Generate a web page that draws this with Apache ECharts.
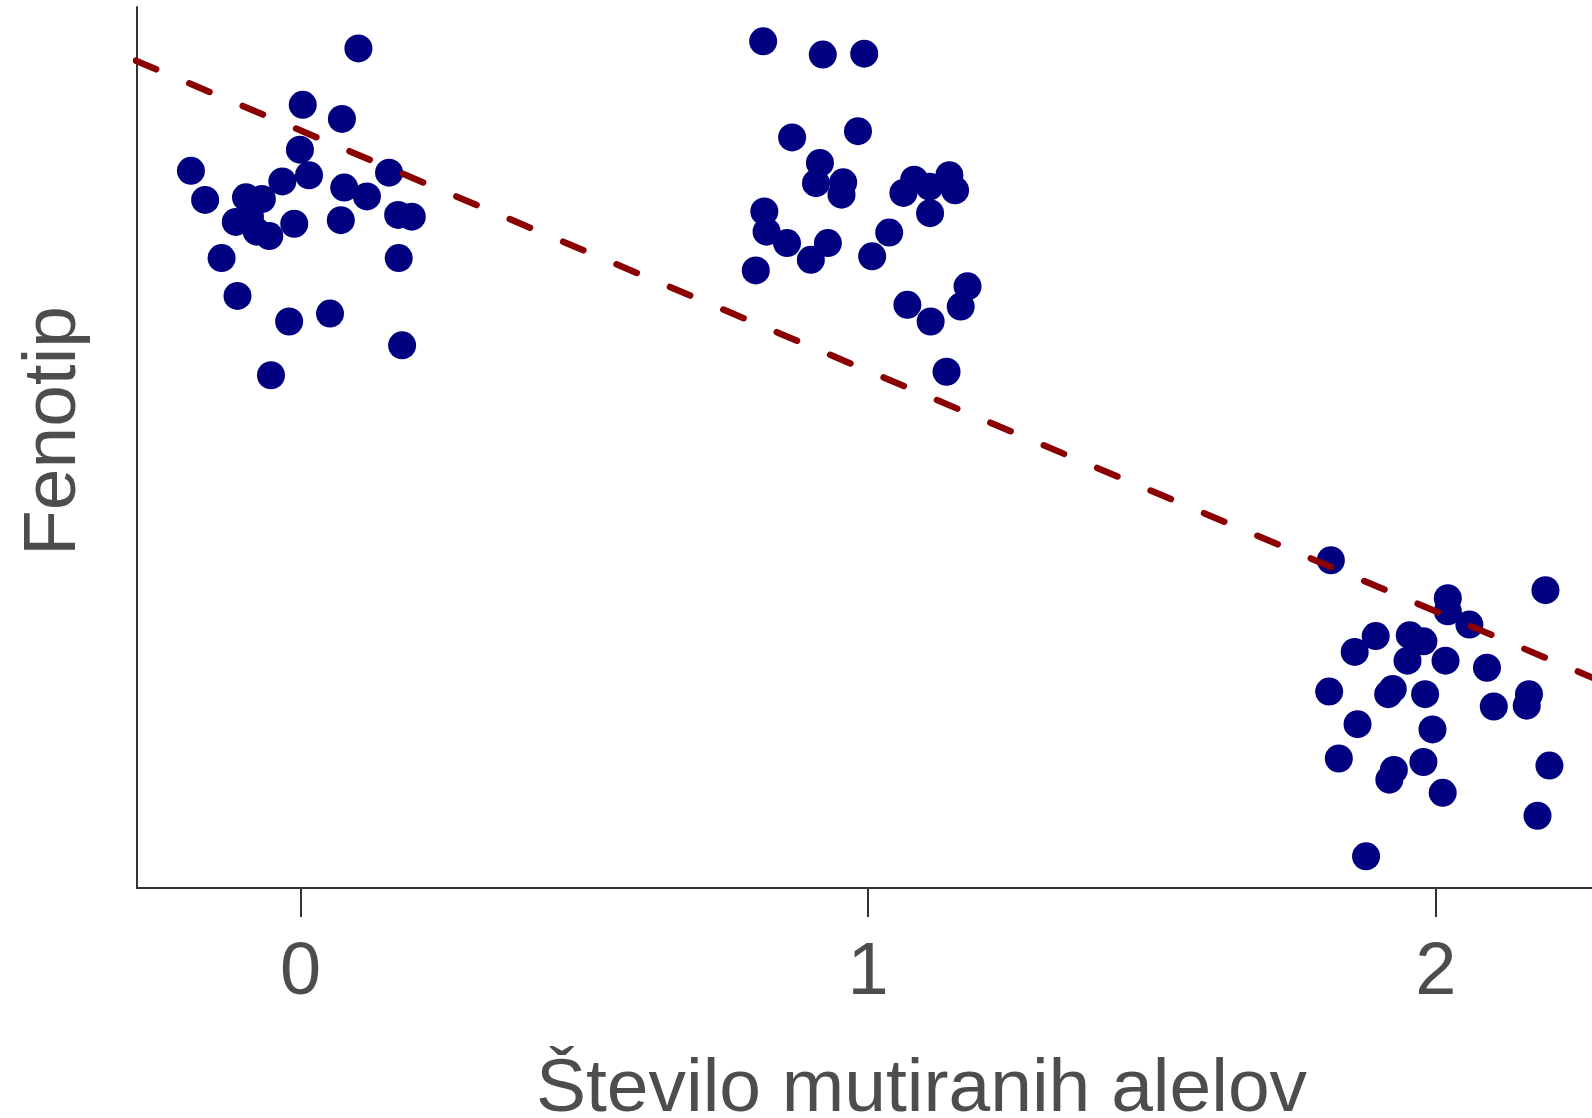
<!DOCTYPE html>
<html>
<head>
<meta charset="utf-8">
<script src="https://cdn.jsdelivr.net/npm/echarts@6/dist/echarts.min.js"></script>
<style>
  html, body { margin: 0; padding: 0; background: #fff; }
  #chart { width: 1592px; height: 1118px; }
</style>
</head>
<body>
<div id="chart"></div>
<script>
// number of mutated alleles (jittered) and phenotype
var alleles0 = [0.102, 0.004, 0.073, -0.001, 0.015, -0.193, 0.156, -0.032, 0.077, 0.117,
  -0.168, -0.096, -0.068, 0.172, 0.196, -0.114, -0.089, -0.077, -0.055, -0.011,
  0.071, -0.139, 0.173, -0.111, 0.052, -0.020, 0.179, -0.052];
var fenotip0 = [95.3, 88.9, 87.3, 83.8, 80.9, 81.4, 81.2, 80.2, 79.5, 78.5,
  78.1, 78.4, 78.2, 76.4, 76.2, 75.6, 76.2, 74.5, 74.0, 75.4,
  75.8, 71.5, 71.5, 67.2, 65.2, 64.3, 61.6, 58.2];

var alleles1 = [0.815, 0.920, 0.993, 0.866, 0.982, 0.915, 0.908, 0.956, 0.953, 1.081,
  1.062, 1.108, 1.143, 1.153, 1.109, 0.817, 0.821, 0.857, 0.929, 0.899,
  1.037, 1.007, 0.802, 1.175, 1.163, 1.069, 1.110, 1.138];
var fenotip1 = [96.1, 94.6, 94.7, 85.2, 85.9, 82.3, 80.0, 80.1, 78.7, 80.4,
  78.9, 79.6, 80.9, 79.2, 76.6, 76.8, 74.5, 73.2, 73.2, 71.3,
  74.4, 71.7, 70.1, 68.3, 66.0, 66.2, 64.3, 58.6];

var alleles2 = [1.815, 2.021, 2.021, 2.059, 2.193, 1.894, 1.857, 1.954, 1.978, 1.950,
  2.017, 2.090, 1.812, 1.924, 1.916, 1.981, 2.164, 2.160, 2.102, 1.862,
  1.994, 1.829, 1.926, 1.918, 1.978, 2.200, 2.012, 2.179, 1.877];
var fenotip2 = [37.2, 32.9, 31.4, 29.9, 33.8, 28.6, 26.8, 28.7, 28.0, 25.8,
  25.8, 25.0, 22.3, 22.6, 22.0, 22.0, 22.0, 20.7, 20.6, 18.6,
  18.0, 14.7, 13.4, 12.3, 14.3, 13.9, 10.8, 8.2, 3.6];

// regression line end points
var regX = [-0.29, 2.48];
var regY = [93.9, 18.3];

var xTicks = [0, 1, 2];

var points = [];
[[alleles0, fenotip0], [alleles1, fenotip1], [alleles2, fenotip2]].forEach(function (g) {
  for (var i = 0; i < g[0].length; i++) points.push([g[0][i], g[1][i]]);
});
var line = regX.map(function (x, i) { return [x, regY[i]]; });

var chart = echarts.init(document.getElementById('chart'), null, { renderer: 'canvas' });
var textColor = '#4d4d4d';
var font = 'Liberation Sans, Arial, sans-serif';

chart.setOption({
  backgroundColor: '#fff',
  animation: false,
  grid: { left: 137, top: 7, bottom: 230, right: 0, outerBoundsMode: 'none', containLabel: false },
  xAxis: {
    type: 'value',
    min: -0.288,
    max: 2.275,
    name: 'Število mutiranih alelov',
    nameLocation: 'middle',
    nameGap: 165,
    // plot panel of the original runs past the right edge, so the title sits right of centre
    nameTextStyle: { color: textColor, fontSize: 75, fontFamily: font, padding: [0, 0, 0, 114] },
    axisLine: { show: true, onZero: false, lineStyle: { color: '#333', width: 2 } },
    axisTick: {
      show: true, length: 29, lineStyle: { color: '#333', width: 2 },
      customValues: xTicks
    },
    axisLabel: {
      color: textColor, fontSize: 74, fontFamily: font, margin: 86,
      verticalAlign: 'middle', customValues: xTicks,
      formatter: function (v) { return String(v); }
    },
    splitLine: { show: false }
  },
  yAxis: {
    type: 'value',
    min: 0,
    max: 100,
    axisLine: { show: true, onZero: false, lineStyle: { color: '#333', width: 2 } },
    axisTick: { show: false },
    axisLabel: { show: false },
    splitLine: { show: false }
  },
  graphic: [{
    type: 'text',
    x: 54,
    y: 431,
    rotation: Math.PI / 2,
    style: {
      text: 'Fenotip',
      fill: textColor,
      fontSize: 75,
      fontFamily: font,
      textAlign: 'center',
      textVerticalAlign: 'middle'
    }
  }],
  series: [
    {
      type: 'scatter',
      data: points,
      symbol: 'circle',
      symbolSize: 28,
      itemStyle: { color: '#000080', opacity: 1 },
      z: 2
    },
    {
      type: 'line',
      data: line,
      symbol: 'none',
      lineStyle: { color: '#8b0000', width: 6.5, type: [22, 36], cap: 'round' },
      z: 3
    }
  ]
});
</script>
</body>
</html>
